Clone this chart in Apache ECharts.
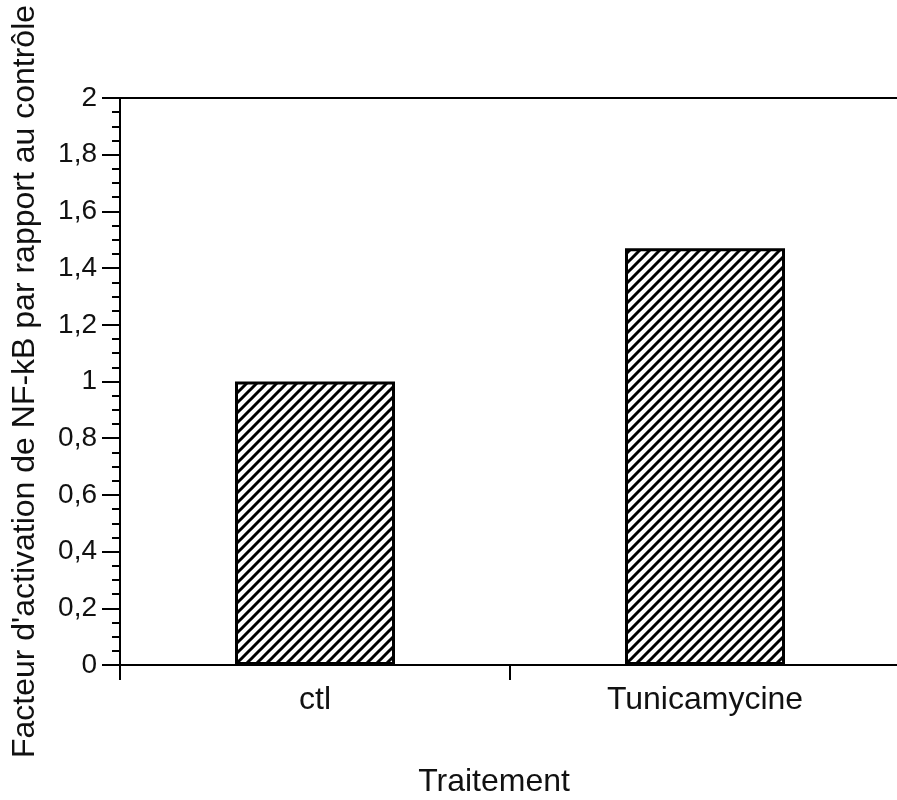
<!DOCTYPE html>
<html>
<head>
<meta charset="utf-8">
<script src="https://cdn.jsdelivr.net/npm/echarts@6/dist/echarts.min.js"></script>
<style>
html,body{margin:0;padding:0;background:#fff;overflow:hidden;}
#chart{width:897px;height:800px;}
</style>
</head>
<body>
<div id="chart"></div>
<script>
// Data
var categories = ['ctl', 'Tunicamycine'];
var values = [1.0, 1.47];
var yTitle = "Facteur d'activation de NF-kB par rapport au contrôle";
var xTitle = 'Traitement';

// Hatch pattern
var tile = document.createElement('canvas');
tile.width = 10; tile.height = 10;
var ctx = tile.getContext('2d');
ctx.fillStyle = '#fff';
ctx.fillRect(0, 0, 10, 10);
ctx.strokeStyle = '#000';
ctx.lineWidth = 3;
ctx.beginPath();
ctx.moveTo(-2, 12); ctx.lineTo(12, -2);
ctx.moveTo(-2, 2); ctx.lineTo(2, -2);
ctx.moveTo(8, 12); ctx.lineTo(12, 8);
ctx.stroke();

var font = 'Liberation Sans, Arial, Helvetica, sans-serif';
var chart = echarts.init(document.getElementById('chart'), null, {renderer: 'canvas'});
chart.setOption({
  backgroundColor: '#fff',
  animation: false,
  grid: {left: 120, width: 780, top: 98, height: 567, show: true, borderColor: '#000', borderWidth: 2,
    containLabel: false, outerBoundsMode: 'none'},
  xAxis: {
    type: 'category',
    data: categories,
    axisLine: {lineStyle: {color: '#000', width: 2}},
    axisTick: {show: true, length: 15, lineStyle: {color: '#000', width: 2}},
    axisLabel: {color: '#111', fontFamily: font, fontSize: 32, margin: 19},
    name: xTitle,
    nameLocation: 'middle',
    nameGap: 101,
    nameTextStyle: {color: '#111', fontFamily: font, fontSize: 32, padding: [0, 32, 0, 0]}
  },
  yAxis: {
    type: 'value',
    min: 0, max: 2, interval: 0.2,
    axisLine: {show: true, lineStyle: {color: '#000', width: 2}},
    axisTick: {show: true, length: 18, lineStyle: {color: '#000', width: 2}},
    minorTick: {show: true, splitNumber: 4, length: 8, lineStyle: {color: '#000', width: 2}},
    splitLine: {show: false},
    axisLabel: {color: '#111', fontFamily: font, fontSize: 28, margin: 23,
      formatter: function (v) { return String(Math.round(v * 10) / 10).replace('.', ','); }},
    name: yTitle,
    nameLocation: 'middle',
    nameRotate: 90,
    nameGap: 79,
    nameTextStyle: {color: '#111', fontFamily: font, fontSize: 32}
  },
  series: [{
    type: 'bar',
    data: values,
    barWidth: 160,
    itemStyle: {color: {image: tile, repeat: 'repeat'}, borderColor: '#000', borderWidth: 3}
  }]
});
</script>
</body>
</html>
